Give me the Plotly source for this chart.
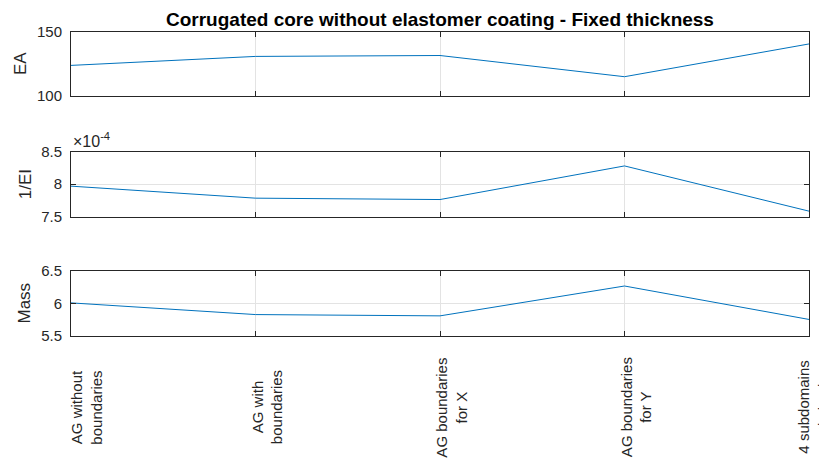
import plotly.graph_objects as go
from plotly.subplots import make_subplots

categories = ["AG without<br>boundaries", "AG with<br>boundaries", "AG boundaries<br>for X",
              "AG boundaries<br>for Y", "4 subdomains<br>optimisation"]
ea_values = [124.0, 131.0, 131.7, 115.2, 140.7]
inv_ei_values = [7.97e-4, 7.786e-4, 7.765e-4, 8.28e-4, 7.587e-4]
mass_values = [6.01, 5.83, 5.81, 6.27, 5.755]

ea_ticks = [100, 150]
ei_ticks = [7.5e-4, 8.0e-4, 8.5e-4]
ei_ticktext = ["7.5", "8", "8.5"]
mass_ticks = [5.5, 6.0, 6.5]
mass_ticktext = ["5.5", "6", "6.5"]

title_text = "Corrugated core without elastomer coating - Fixed thickness"
y_titles = ["EA", "1/EI", "Mass"]

# page is rendered with an 8px body margin; work in page pixels and convert
OFF = 8
PAGE_W, PAGE_H = 827, 463
W, H = PAGE_W - OFF, PAGE_H - OFF
left_px, right_px, top_px, bottom_px = 71, 809, 32, 336.3
ml = left_px - OFF
mr = W - (right_px - OFF)
mt = top_px - OFF
mb = H - (bottom_px - OFF)
ph = H - mt - mb
pw = W - ml - mr

def clamp(v):
    return min(1.0, max(0.0, v))

def dom(t, b):
    return [clamp((bottom_px - b) / ph), clamp((bottom_px - t) / ph)]

doms = [dom(32, 96.3), dom(151.7, 217), dom(271.3, 336.3)]

fig = make_subplots(rows=3, cols=1, shared_xaxes=False)
xs = list(range(len(categories)))
line_color = "#0072BD"
for i, vals in enumerate([ea_values, inv_ei_values, mass_values]):
    fig.add_trace(go.Scatter(x=xs, y=vals, mode="lines",
                             line=dict(color=line_color, width=1),
                             showlegend=False, hoverinfo="skip"), row=i + 1, col=1)

axis_common = dict(showline=True, linecolor="#262626", linewidth=1, mirror="ticks",
                   ticks="inside", ticklen=5, tickcolor="#262626",
                   showgrid=True, gridcolor="#e3e3e3", gridwidth=1, zeroline=False,
                   tickfont=dict(family="Liberation Sans, Arial", size=15, color="#262626"))

yranges = [[100, 150], [7.5e-4, 8.5e-4], [5.5, 6.5]]
ytv = [ea_ticks, ei_ticks, mass_ticks]
ytt = [[str(v) for v in ea_ticks], ei_ticktext, mass_ticktext]
for i in range(3):
    xa = "xaxis" if i == 0 else f"xaxis{i+1}"
    ya = "yaxis" if i == 0 else f"yaxis{i+1}"
    fig.layout[xa].update(range=[0, len(categories) - 1], tickvals=xs,
                          showticklabels=False, **axis_common)
    fig.layout[ya].update(range=yranges[i], tickvals=ytv[i], ticktext=ytt[i],
                          domain=doms[i], ticklabelstandoff=5, **axis_common)

annotations = []
title_x_px = [20, 25, 25]
for i, t in enumerate(y_titles):
    annotations.append(dict(text=t, xref="paper", yref="paper",
                            x=(title_x_px[i] - left_px) / pw, y=sum(doms[i]) / 2,
                            xanchor="center", yanchor="middle", textangle=-90,
                            showarrow=False,
                            font=dict(family="Liberation Sans, Arial", size=17, color="#262626")))

annotations.append(dict(text="×10<sup>-4</sup>", xref="paper", yref="paper",
                        x=0, y=doms[1][1], xanchor="left", yanchor="bottom", yshift=0,
                        showarrow=False,
                        font=dict(family="Liberation Sans, Arial", size=16, color="#262626")))

label_y = (bottom_px - 408) / ph
label_xshift = [16, 12, 12, 12, 5]
for i, c in enumerate(categories):
    annotations.append(dict(text=c, xref="x3", yref="paper", x=xs[i], y=label_y,
                            xanchor="center", yanchor="middle", textangle=-90,
                            xshift=label_xshift[i], align="center", showarrow=False,
                            font=dict(family="Liberation Sans, Arial", size=15, color="#262626")))

annotations.append(dict(text="<b>" + title_text + "</b>", xref="paper", yref="paper",
                        x=0.5, y=1, yshift=13, xanchor="center", yanchor="middle",
                        showarrow=False,
                        font=dict(family="Liberation Sans, Arial", size=19, color="#000000")))

fig.update_layout(width=W, height=H, margin=dict(l=ml, r=mr, t=mt, b=mb),
                  paper_bgcolor="white", plot_bgcolor="white",
                  annotations=annotations, showlegend=False)

fig.write_html("out.html")
